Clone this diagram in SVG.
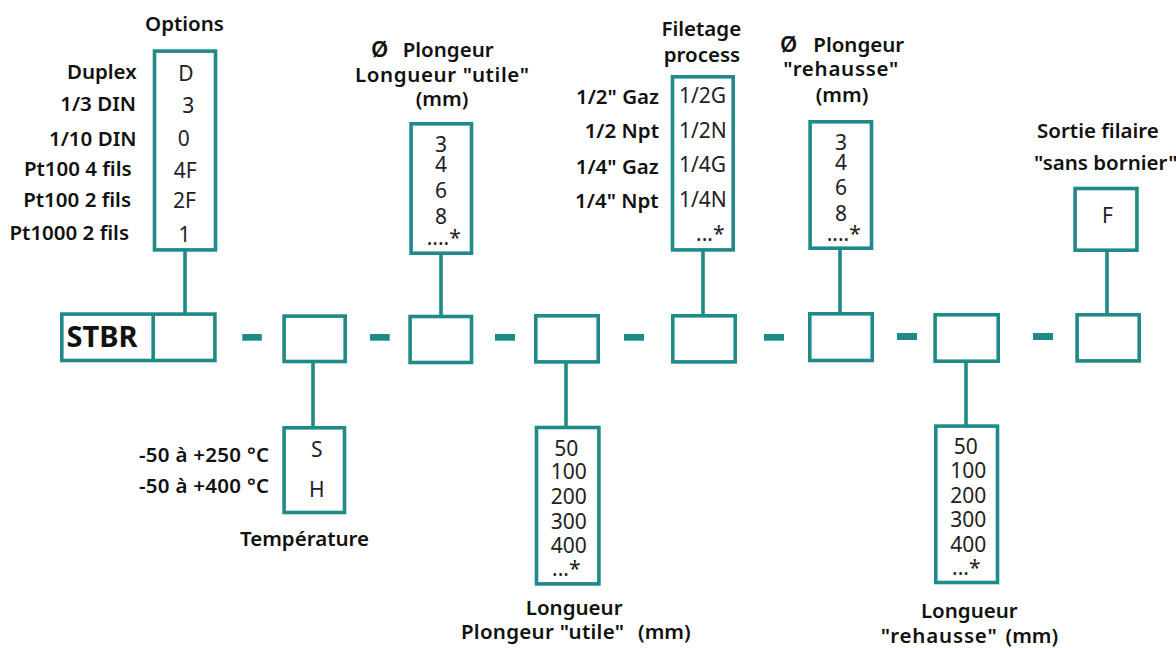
<svg xmlns="http://www.w3.org/2000/svg" width="1176" height="648" viewBox="0 0 1176 648">
<style>
.bx{fill:#fff;stroke:#1f8a87;stroke-width:3.6}
.cn{stroke:#1f8a87;stroke-width:3.6;fill:none}
.ds{fill:#1f8a87}
.lb{font-family:"Noto Sans","Open Sans","Liberation Sans",sans-serif;font-weight:600;font-size:20.5px;fill:#111}
.v{font-family:"Noto Sans","Open Sans","Liberation Sans",sans-serif;font-weight:400;font-size:21px;fill:#222}
.e{text-anchor:end}
.m{text-anchor:middle}
.t{font-family:"Noto Sans","Open Sans","Liberation Sans",sans-serif;font-weight:700;font-size:29px;fill:#111}
</style>
<rect width="1176" height="648" fill="#fff"/>
<g id="connectors">
<line class="cn" x1="185" y1="251" x2="185" y2="313"/>
<line class="cn" x1="313" y1="362" x2="313" y2="427"/>
<line class="cn" x1="441" y1="254" x2="441" y2="316"/>
<line class="cn" x1="566" y1="362" x2="566" y2="427"/>
<line class="cn" x1="703" y1="251" x2="703" y2="316"/>
<line class="cn" x1="840" y1="249" x2="840" y2="314"/>
<line class="cn" x1="966" y1="362" x2="966" y2="425"/>
<line class="cn" x1="1107" y1="251" x2="1107" y2="314"/>
<rect class="ds" x="242.3" y="334" width="19.5" height="6.7"/>
<rect class="ds" x="370" y="334" width="19.7" height="6.7"/>
<rect class="ds" x="495" y="334" width="20" height="6.7"/>
<rect class="ds" x="624" y="334" width="20" height="6.7"/>
<rect class="ds" x="764" y="334" width="20" height="6.7"/>
<rect class="ds" x="897" y="333" width="20" height="7"/>
<rect class="ds" x="1033" y="333" width="20" height="7"/>
</g>
<g id="stbr">
<rect class="bx" x="61.8" y="314.1" width="153.1" height="46.4"/>
<line class="cn" x1="153.2" y1="314.1" x2="153.2" y2="360.5"/>
<text class="t" x="66.5" y="346.7">STBR</text>
</g>
<g id="box2"><rect class="bx" x="284.1" y="316.1" width="61.1" height="45.4"/></g>
<g id="box3"><rect class="bx" x="410.1" y="316.5" width="61.4" height="46"/></g>
<g id="box4"><rect class="bx" x="535.8" y="315.8" width="62.4" height="46.1"/></g>
<g id="box5"><rect class="bx" x="672.8" y="315.8" width="62.4" height="46.1"/></g>
<g id="box6"><rect class="bx" x="809.8" y="313.8" width="62.4" height="46.7"/></g>
<g id="box7"><rect class="bx" x="935.1" y="314.8" width="63.1" height="46.4"/></g>
<g id="box8"><rect class="bx" x="1077.1" y="314.8" width="62.1" height="46.1"/></g>
<g id="options">
<text class="lb m" x="184.5" y="30.7">Options</text>
<rect class="bx" x="154.5" y="51.1" width="61" height="198.8"/>
<text class="lb e" x="136.7" y="79.3">Duplex</text>
<text class="lb e" x="136" y="111">1/3 DIN</text>
<text class="lb e" x="136.5" y="145.7">1/10 DIN</text>
<text class="lb e" x="131.7" y="175.7">Pt100 4 fils</text>
<text class="lb e" x="131" y="206.7">Pt100 2 fils</text>
<text class="lb e" x="129" y="240">Pt1000 2 fils</text>
<text class="v m" x="186" y="81">D</text>
<text class="v m" x="188.3" y="113.3">3</text>
<text class="v m" x="183.7" y="145.7">0</text>
<text class="v m" x="185.3" y="178">4F</text>
<text class="v m" x="184.5" y="208.3">2F</text>
<text class="v m" x="184.5" y="241.7">1</text>
</g>
<g id="plongeur-utile">
<text class="lb" x="371" y="57.3"><tspan font-size="22px">Ø</tspan> <tspan x="402.7">Plongeur</tspan></text>
<text class="lb" x="355" y="81.7" textLength="174" lengthAdjust="spacing">Longueur "utile"</text>
<text class="lb m" x="442" y="106">(mm)</text>
<rect class="bx" x="411.1" y="123.8" width="60.4" height="129.4"/>
<text class="v m" x="441" y="151.7">3</text>
<text class="v m" x="441" y="171.7">4</text>
<text class="v m" x="441" y="198.3">6</text>
<text class="v m" x="441" y="224">8</text>
<text class="v" x="426.7" y="245">....*</text>
</g>
<g id="filetage">
<text class="lb m" x="701.3" y="35.7">Filetage</text>
<text class="lb m" x="702" y="61.7">process</text>
<rect class="bx" x="672.5" y="76.8" width="60.7" height="173.1"/>
<text class="lb e" x="659" y="104">1/2" Gaz</text>
<text class="lb e" x="659" y="138.3">1/2 Npt</text>
<text class="lb e" x="658.7" y="174">1/4" Gaz</text>
<text class="lb e" x="658.7" y="208.3">1/4" Npt</text>
<text class="v" x="679" y="102.7">1/2G</text>
<text class="v" x="679" y="137.7">1/2N</text>
<text class="v" x="679" y="172.3">1/4G</text>
<text class="v" x="679" y="207.3">1/4N</text>
<text class="v" x="696" y="240.7">...*</text>
</g>
<g id="plongeur-rehausse">
<text class="lb" x="780" y="52"><tspan font-size="22px">Ø</tspan> <tspan x="813.3">Plongeur</tspan></text>
<text class="lb" x="783.3" y="76" textLength="115" lengthAdjust="spacing">"rehausse"</text>
<text class="lb m" x="842" y="101.7">(mm)</text>
<rect class="bx" x="810.1" y="121.8" width="61.4" height="126.4"/>
<text class="v m" x="841" y="150">3</text>
<text class="v m" x="841" y="170">4</text>
<text class="v m" x="841" y="195">6</text>
<text class="v m" x="841" y="220.7">8</text>
<text class="v" x="826.7" y="241">....*</text>
</g>
<g id="sortie">
<text class="lb" x="1037" y="137.7">Sortie filaire</text>
<text class="lb" x="1034" y="170">"sans bornier"</text>
<rect class="bx" x="1075.1" y="188.5" width="61.8" height="61.7"/>
<text class="v m" x="1107.5" y="222.7">F</text>
</g>
<g id="temperature">
<rect class="bx" x="284.1" y="427.8" width="60.4" height="84.7"/>
<text class="v m" x="316.7" y="456.7">S</text>
<text class="v m" x="316.7" y="496.7">H</text>
<text class="lb" x="139" y="461.7" textLength="130" lengthAdjust="spacing">-50 à +250 °C</text>
<text class="lb" x="139" y="493.3" textLength="130" lengthAdjust="spacing">-50 à +400 °C</text>
<text class="lb m" x="304.5" y="545.7">Température</text>
</g>
<g id="longueur-utile">
<rect class="bx" x="536.5" y="427.5" width="62.4" height="156.4"/>
<text class="v m" x="566.2" y="455.7">50</text>
<text class="v m" x="568.8" y="479.3">100</text>
<text class="v m" x="568.8" y="504.3">200</text>
<text class="v m" x="568.8" y="529.3">300</text>
<text class="v m" x="568.8" y="552.7">400</text>
<text class="v" x="552" y="576">...*</text>
<text class="lb m" x="574.2" y="615">Longueur</text>
<text class="lb" x="461" y="639.3"><tspan textLength="163" lengthAdjust="spacing">Plongeur "utile"</tspan> <tspan x="638">(mm)</tspan></text>
</g>
<g id="longueur-rehausse">
<rect class="bx" x="935.8" y="426.1" width="61.7" height="156.4"/>
<text class="v m" x="965.8" y="454">50</text>
<text class="v m" x="968.2" y="478.3">100</text>
<text class="v m" x="968.2" y="503.3">200</text>
<text class="v m" x="968.2" y="527.3">300</text>
<text class="v m" x="968.2" y="551.7">400</text>
<text class="v" x="952" y="575">...*</text>
<text class="lb m" x="969.3" y="618.3">Longueur</text>
<text class="lb" x="880.7" y="642.7"><tspan textLength="116" lengthAdjust="spacing">"rehausse"</tspan> <tspan x="1005.5">(mm)</tspan></text>
</g>
</svg>
